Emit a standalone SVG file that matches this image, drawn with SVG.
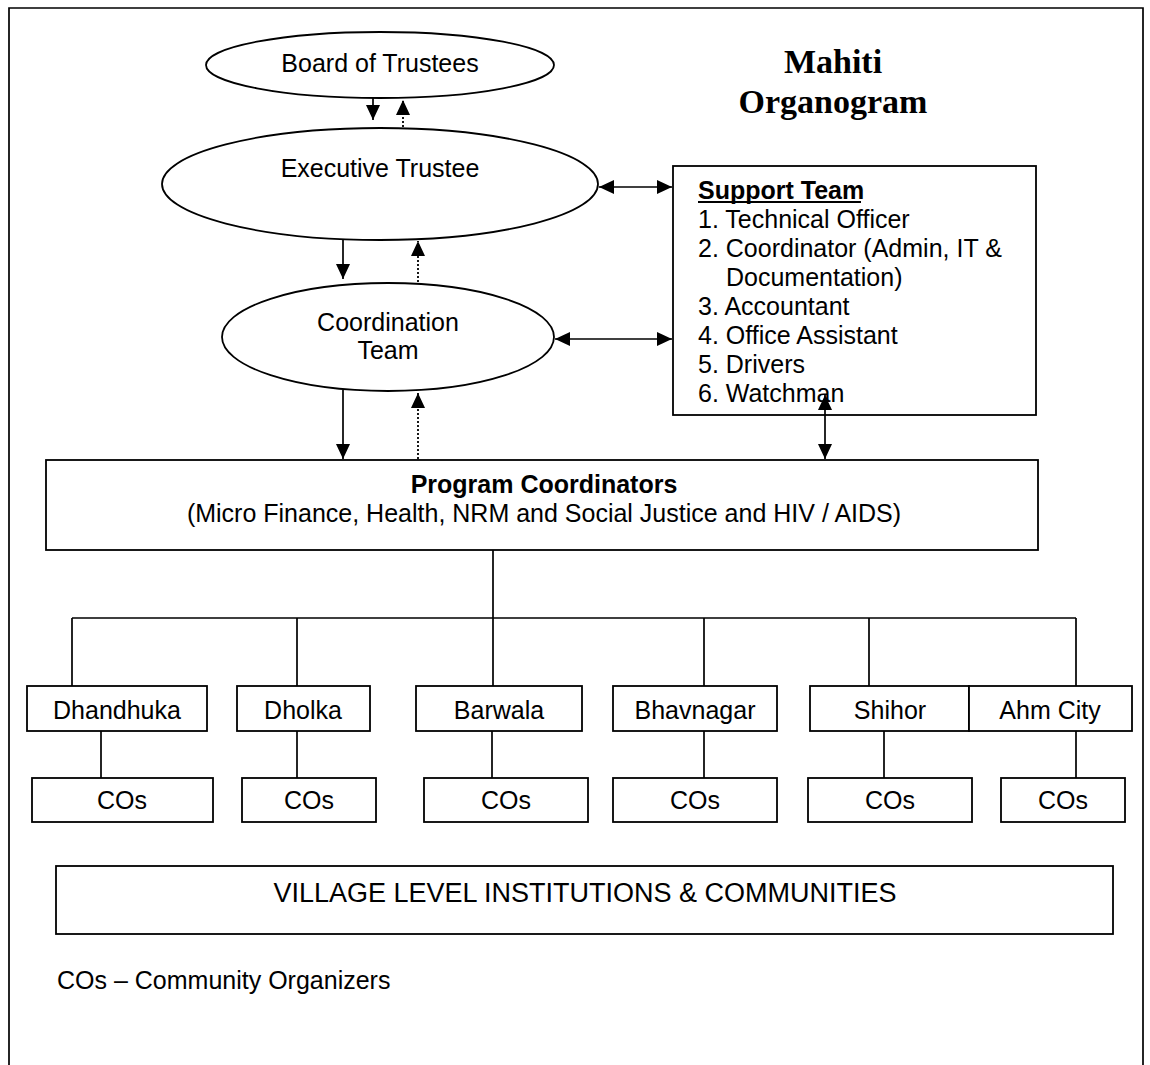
<svg xmlns="http://www.w3.org/2000/svg" width="1150" height="1065" viewBox="0 0 1150 1065">
<style>
.shape{fill:#fff;stroke:#000;stroke-width:1.8}
.ln{fill:none;stroke:#000;stroke-width:1.7}
.dot{fill:none;stroke:#000;stroke-width:1.8;stroke-dasharray:2 2}
.t{font-family:"Liberation Sans",Arial,sans-serif;font-size:25px;fill:#000}
.c{text-anchor:middle}
.b{font-weight:bold}
.title{font-family:"Liberation Serif","Times New Roman",serif;font-size:34px;font-weight:bold;text-anchor:middle;fill:#000}
</style>
<defs>
<marker id="ah" viewBox="0 0 15 14" refX="15" refY="7" markerWidth="15" markerHeight="14" markerUnits="userSpaceOnUse" orient="auto-start-reverse">
<path d="M0,0 L15,7 L0,14 Z" fill="#000"/>
</marker>
<clipPath id="clipB"><rect x="613" y="686" width="164" height="38"/></clipPath>
<clipPath id="clipA"><rect x="969" y="686" width="163" height="38"/></clipPath>
</defs>
<rect width="1150" height="1065" fill="#fff"/>
<path class="ln" d="M9,1065 V8 H1143 V1065"/>

<g id="title">
<text class="title" x="833" y="73">Mahiti</text>
<text class="title" x="833" y="113">Organogram</text>
</g>

<g id="board">
<ellipse class="shape" cx="380" cy="65" rx="174" ry="33"/>
<text class="t c" x="380" y="72">Board of Trustees</text>
</g>
<g id="executive">
<ellipse class="shape" cx="380" cy="184" rx="218" ry="56"/>
<text class="t c" x="380" y="177">Executive Trustee</text>
</g>
<g id="coordination">
<ellipse class="shape" cx="388" cy="337" rx="166" ry="54"/>
<text class="t c" x="388" y="331">Coordination</text>
<text class="t c" x="388" y="359">Team</text>
</g>
<g id="support">
<rect class="shape" x="673" y="166" width="363" height="249"/>
<text class="t b" x="698" y="199">Support Team</text>
<line x1="698" y1="202" x2="861" y2="202" stroke="#000" stroke-width="1.8"/>
<text class="t" x="698" y="228">1. Technical Officer</text>
<text class="t" x="698" y="257">2. Coordinator (Admin, IT &amp;</text>
<text class="t" x="726" y="286">Documentation)</text>
<text class="t" x="698" y="315">3. Accountant</text>
<text class="t" x="698" y="344">4. Office Assistant</text>
<text class="t" x="698" y="373">5. Drivers</text>
<text class="t" x="698" y="402">6. Watchman</text>
</g>
<g id="program">
<rect class="shape" x="46" y="460" width="992" height="90"/>
<text class="t c b" x="544" y="493">Program Coordinators</text>
<text class="t c" x="544" y="522">(Micro Finance, Health, NRM and Social Justice and HIV / AIDS)</text>
</g>

<g id="dhandhuka"><rect class="shape" x="27" y="686" width="180" height="45"/><text class="t c" x="117" y="719">Dhandhuka</text></g>
<g id="dholka"><rect class="shape" x="237" y="686" width="133" height="45"/><text class="t c" x="303" y="719">Dholka</text></g>
<g id="barwala"><rect class="shape" x="416" y="686" width="166" height="45"/><text class="t c" x="499" y="719">Barwala</text></g>
<g id="bhavnagar"><rect class="shape" x="613" y="686" width="164" height="45"/><text class="t c" x="695" y="719" clip-path="url(#clipB)">Bhavnagar</text></g>
<g id="shihor"><rect class="shape" x="810" y="686" width="159" height="45"/><text class="t c" x="890" y="719">Shihor</text></g>
<g id="ahmcity"><rect class="shape" x="969" y="686" width="163" height="45"/><text class="t c" x="1050" y="719" clip-path="url(#clipA)">Ahm City</text></g>

<g id="cos1"><rect class="shape" x="32" y="778" width="181" height="44"/><text class="t c" x="122" y="809">COs</text></g>
<g id="cos2"><rect class="shape" x="242" y="778" width="134" height="44"/><text class="t c" x="309" y="809">COs</text></g>
<g id="cos3"><rect class="shape" x="424" y="778" width="164" height="44"/><text class="t c" x="506" y="809">COs</text></g>
<g id="cos4"><rect class="shape" x="613" y="778" width="164" height="44"/><text class="t c" x="695" y="809">COs</text></g>
<g id="cos5"><rect class="shape" x="808" y="778" width="164" height="44"/><text class="t c" x="890" y="809">COs</text></g>
<g id="cos6"><rect class="shape" x="1001" y="778" width="124" height="44"/><text class="t c" x="1063" y="809">COs</text></g>

<g id="village">
<rect class="shape" x="56" y="866" width="1057" height="68"/>
<text class="t c" x="585" y="902" style="font-size:27px">VILLAGE LEVEL INSTITUTIONS &amp; COMMUNITIES</text>
</g>
<g id="legend">
<text class="t" x="57" y="989">COs – Community Organizers</text>
</g>

<g id="connectors">
<line class="ln" x1="373" y1="98" x2="373" y2="120" marker-end="url(#ah)"/>
<line class="dot" x1="403" y1="127" x2="403" y2="100" marker-end="url(#ah)"/>
<line class="ln" x1="599" y1="187" x2="672" y2="187" marker-start="url(#ah)" marker-end="url(#ah)"/>
<line class="ln" x1="343" y1="239" x2="343" y2="279" marker-end="url(#ah)"/>
<line class="dot" x1="418" y1="282" x2="418" y2="241" marker-end="url(#ah)"/>
<line class="ln" x1="555" y1="339" x2="672" y2="339" marker-start="url(#ah)" marker-end="url(#ah)"/>
<line class="ln" x1="343" y1="390" x2="343" y2="459" marker-end="url(#ah)"/>
<line class="dot" x1="418" y1="459" x2="418" y2="393" marker-end="url(#ah)"/>
<line class="ln" x1="825" y1="395" x2="825" y2="459" marker-start="url(#ah)" marker-end="url(#ah)"/>
<path class="ln" d="M493,550 V618 M72,618 H1076 M72,618 V686 M297,618 V686 M493,618 V686 M704,618 V686 M869,618 V686 M1076,618 V686"/>
<path class="ln" d="M101,731 V778 M297,731 V778 M492,731 V778 M704,731 V778 M884,731 V778 M1076,731 V778"/>
</g>
</svg>
